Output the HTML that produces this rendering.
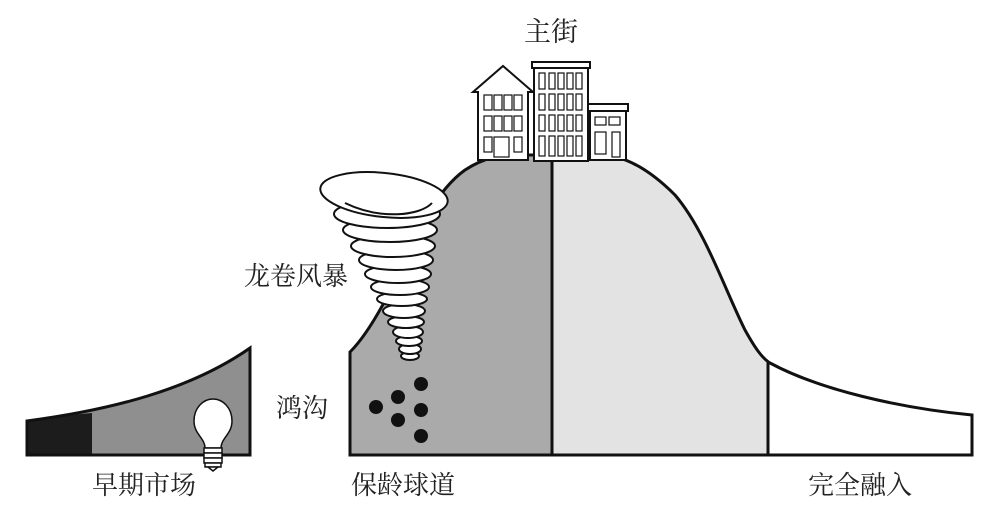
<!DOCTYPE html>
<html><head><meta charset="utf-8"><style>
html,body{margin:0;padding:0;background:#fff;}
svg{display:block}
text{font-family:"Liberation Serif","Noto Serif CJK SC",serif;font-size:26px;fill:#222}
</style></head><body>
<svg width="1000" height="513" viewBox="0 0 1000 513" xmlns="http://www.w3.org/2000/svg">
<defs>
<clipPath id="hill"><path d="M350,455 L350,352 C362,340 375,320 388,295 C410,250 430,195 465,170 C485,157 500,155 520,155 L600,155 C625,155 650,170 675,195 C705,230 725,290 745,330 C755,348 762,358 770,363 C820,390 900,408 972,415 L972,455 Z"/></clipPath>
</defs>
<path d="M27,421 C110,410 190,390 250,348 L250,455 L27,455 Z" fill="#8f8f8f"/>
<path d="M27,421 C50,417 70,415 92,413 L92,455 L27,455 Z" fill="#1c1c1c"/>
<path d="M27,421 C110,410 190,390 250,348 L250,455 L27,455 Z" fill="none" stroke="#111" stroke-width="3"/>
<g stroke="#111" stroke-width="1.5" fill="#fff">
<path d="M205,448 C205,438 194,434 194,421 C194,408 203,399 213,399 C223,399 232,408 232,421 C232,434 221,438 221,448 Z"/>
<rect x="204" y="448" width="18" height="5"/><rect x="204" y="453" width="18" height="5"/><rect x="204" y="458" width="18" height="5"/><rect x="205" y="463" width="16" height="4"/>
<path d="M208,467 L213,471 L218,467Z"/>
</g>
<g clip-path="url(#hill)">
<rect x="340" y="140" width="212" height="320" fill="#aaaaaa"/>
<rect x="552" y="140" width="216" height="320" fill="#e3e3e3"/>
<rect x="768" y="140" width="210" height="320" fill="#fff"/>
</g>
<path d="M350,455 L350,352 C362,340 375,320 388,295 C410,250 430,195 465,170 C485,157 500,155 520,155 L600,155 C625,155 650,170 675,195 C705,230 725,290 745,330 C755,348 762,358 770,363 C820,390 900,408 972,415 L972,455 Z" fill="none" stroke="#111" stroke-width="3"/>
<line x1="552" y1="155" x2="552" y2="455" stroke="#111" stroke-width="3"/>
<line x1="768" y1="362" x2="768" y2="455" stroke="#111" stroke-width="3"/>
<g fill="#111"><circle cx="421" cy="384" r="7"/><circle cx="398" cy="397" r="7"/><circle cx="376" cy="407" r="7"/><circle cx="421" cy="410" r="7"/><circle cx="398" cy="420" r="7"/><circle cx="421" cy="436" r="7"/></g>
<g stroke="#111" stroke-width="2" fill="#fff">
<ellipse cx="410" cy="356" rx="9" ry="4"/>
<ellipse cx="410" cy="349" rx="11" ry="5"/>
<ellipse cx="409" cy="341" rx="13" ry="5"/>
<ellipse cx="408" cy="332" rx="15" ry="6"/>
<ellipse cx="406" cy="322" rx="18" ry="6"/>
<ellipse cx="404" cy="311" rx="21" ry="7"/>
<ellipse cx="402" cy="299" rx="25" ry="7"/>
<ellipse cx="400" cy="287" rx="29" ry="8"/>
<ellipse cx="398" cy="274" rx="33" ry="9"/>
<ellipse cx="396" cy="260" rx="37" ry="10"/>
<ellipse cx="393" cy="246" rx="42" ry="11"/>
<ellipse cx="390" cy="230" rx="47" ry="12"/>
<ellipse cx="387" cy="214" rx="53" ry="14"/>
<ellipse cx="384" cy="195" rx="64" ry="22" transform="rotate(6 384 195)"/>
<path d="M345,203 C380,220 420,216 432,203" fill="none"/>
</g>
<g stroke="#111" stroke-width="1.5" fill="#fff">
<path d="M478,160 L478,92 L473,92 L503,66 L533,92 L528,92 L528,160 Z" stroke-width="2"/>
<rect x="534" y="66" width="54" height="95" stroke-width="2"/>
<rect x="532" y="62" width="58" height="6" stroke-width="2"/>
<rect x="590" y="110" width="36" height="50" stroke-width="2"/>
<rect x="588" y="104" width="40" height="7" stroke-width="2"/>
</g>
<g stroke="#111" stroke-width="1.2" fill="none">
<rect x="484" y="95" width="8" height="15"/><rect x="494" y="95" width="8" height="15"/><rect x="504" y="95" width="8" height="15"/><rect x="514" y="95" width="8" height="15"/>
<rect x="484" y="116" width="8" height="15"/><rect x="494" y="116" width="8" height="15"/><rect x="504" y="116" width="8" height="15"/><rect x="514" y="116" width="8" height="15"/>
<rect x="484" y="137" width="8" height="15"/><rect x="494" y="137" width="15" height="20"/><rect x="514" y="137" width="8" height="15"/>
<rect x="539" y="73" width="6" height="16"/><rect x="549" y="73" width="6" height="16"/><rect x="558" y="73" width="6" height="16"/><rect x="567" y="73" width="6" height="16"/><rect x="576" y="73" width="6" height="16"/>
<rect x="539" y="94" width="6" height="16"/><rect x="549" y="94" width="6" height="16"/><rect x="558" y="94" width="6" height="16"/><rect x="567" y="94" width="6" height="16"/><rect x="576" y="94" width="6" height="16"/>
<rect x="539" y="115" width="6" height="16"/><rect x="549" y="115" width="6" height="16"/><rect x="558" y="115" width="6" height="16"/><rect x="567" y="115" width="6" height="16"/><rect x="576" y="115" width="6" height="16"/>
<rect x="539" y="136" width="6" height="20"/><rect x="549" y="136" width="6" height="20"/><rect x="558" y="136" width="6" height="20"/><rect x="567" y="136" width="6" height="20"/><rect x="576" y="136" width="6" height="20"/>
<rect x="595" y="117" width="11" height="8"/><rect x="609" y="117" width="11" height="8"/>
<rect x="595" y="132" width="11" height="22"/><rect x="612" y="132" width="8" height="25"/>
</g>
<text x="524" y="41" style="font-size:27px">主街</text>
<text x="244" y="285">龙卷风暴</text>
<text x="276" y="417">鸿沟</text>
<text x="92" y="494">早期市场</text>
<text x="351" y="494">保龄球道</text>
<text x="808" y="494">完全融入</text>
</svg>
</body></html>
